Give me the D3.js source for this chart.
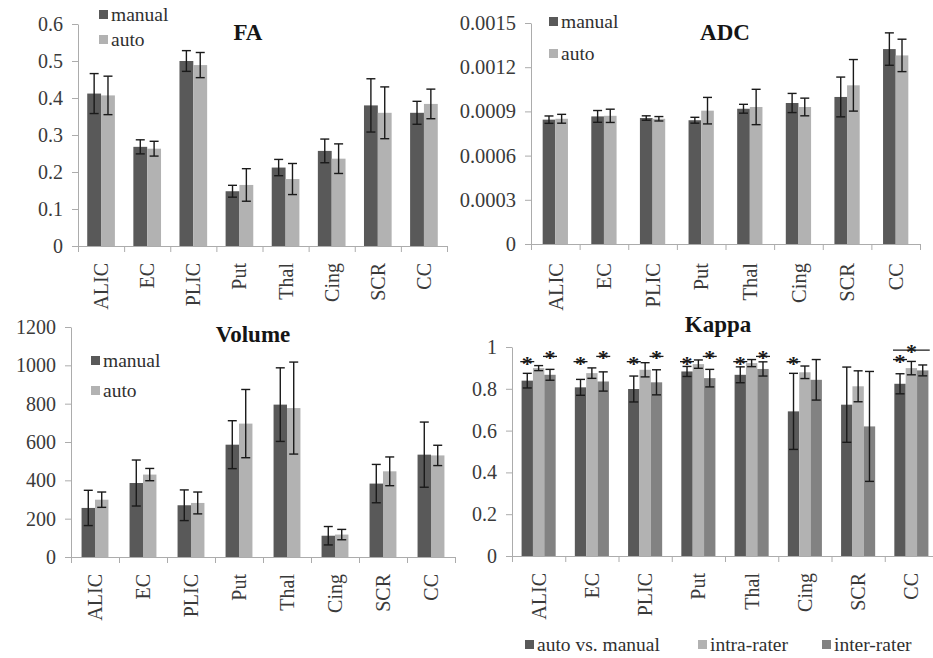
<!DOCTYPE html>
<html>
<head>
<meta charset="utf-8">
<script src="https://cdn.jsdelivr.net/npm/d3@7"></script>
<style>
body { margin: 0; background: #fff; }
</style>
</head>
<body>
<svg></svg>
<script>
const width = 933;
const height = 658;

const regions = ["ALIC", "EC", "PLIC", "Put", "Thal", "Cing", "SCR", "CC"];

// FA
const faManual = [0.412, 0.268, 0.500, 0.148, 0.212, 0.257, 0.380, 0.360];
const faManualErr = [0.054, 0.019, 0.028, 0.016, 0.022, 0.032, 0.072, 0.031];
const faAuto = [0.407, 0.263, 0.489, 0.165, 0.181, 0.236, 0.360, 0.384];
const faAutoErr = [0.052, 0.020, 0.034, 0.044, 0.042, 0.040, 0.070, 0.040];
const faTicks = [0, 0.1, 0.2, 0.3, 0.4, 0.5, 0.6];
const faTickLabels = ["0", "0.1", "0.2", "0.3", "0.4", "0.5", "0.6"];

// ADC
const adcManual = [0.000844, 0.000866, 0.000855, 0.000840, 0.000918, 0.000957, 0.000998, 0.001323];
const adcManualErr = [0.000025, 0.000040, 0.000015, 0.000020, 0.000030, 0.000065, 0.000135, 0.000110];
const adcAuto = [0.000850, 0.000870, 0.000850, 0.000905, 0.000930, 0.000930, 0.001077, 0.001280];
const adcAutoErr = [0.000030, 0.000045, 0.000015, 0.000090, 0.000120, 0.000060, 0.000175, 0.000110];
const adcTicks = [0, 0.0003, 0.0006, 0.0009, 0.0012, 0.0015];
const adcTickLabels = ["0", "0.0003", "0.0006", "0.0009", "0.0012", "0.0015"];

// Volume
const volManual = [256, 386, 270, 586, 795, 111, 383, 534];
const volManualErr = [92, 120, 80, 125, 192, 48, 100, 170];
const volAuto = [299, 430, 282, 696, 777, 117, 447, 530];
const volAutoErr = [40, 32, 57, 178, 240, 27, 75, 53];
const volTicks = [0, 200, 400, 600, 800, 1000, 1200];
const volTickLabels = ["0", "200", "400", "600", "800", "1000", "1200"];

// Kappa
const kAutoManual = [0.839, 0.807, 0.799, 0.883, 0.867, 0.692, 0.724, 0.824];
const kAutoManualErr = [0.035, 0.038, 0.062, 0.024, 0.038, 0.182, 0.180, 0.048];
const kIntra = [0.899, 0.875, 0.891, 0.918, 0.923, 0.879, 0.812, 0.899];
const kIntraErr = [0.012, 0.025, 0.034, 0.020, 0.017, 0.030, 0.074, 0.032];
const kInter = [0.867, 0.835, 0.831, 0.851, 0.895, 0.843, 0.620, 0.888];
const kInterErr = [0.026, 0.046, 0.060, 0.042, 0.034, 0.097, 0.263, 0.026];
const kTicks = [0, 0.2, 0.4, 0.6, 0.8, 1];
const kTickLabels = ["0", "0.2", "0.4", "0.6", "0.8", "1"];
// significance marks: region, first bar, last bar, level of the line
const kStars = [
    ["ALIC", 0, 0, 0.93], ["ALIC", 2, 2, 0.955],
    ["EC", 0, 0, 0.93], ["EC", 2, 2, 0.955],
    ["PLIC", 0, 0, 0.93], ["PLIC", 2, 2, 0.955],
    ["Put", 0, 0, 0.93], ["Put", 2, 2, 0.955],
    ["Thal", 0, 0, 0.93], ["Thal", 2, 2, 0.955],
    ["Cing", 0, 0, 0.93],
    ["CC", 0, 0, 0.94], ["CC", 0, 2, 0.985]
];

const dark = "#595959";
const light = "#b2b2b2";
const mid = "#828282";
const axisColor = "#acacac";
const labelColor = "#3a3a3a";
const serif = "Liberation Serif";

const svg = d3.select("svg")
    .attr("width", width)
    .attr("height", height)
    .attr("font-family", serif);

function drawPanel(cfg) {
    const g = svg.append("g");

    const x = d3.scaleBand()
        .domain(regions)
        .range([cfg.left, cfg.right])
        .paddingInner(cfg.pad)
        .paddingOuter(cfg.pad / 2);
    const xs = d3.scaleBand()
        .domain(d3.range(cfg.series.length))
        .range([0, x.bandwidth()]);
    const y = d3.scaleLinear()
        .domain([0, cfg.max])
        .range([cfg.bottom, cfg.top]);

    cfg.series.forEach((s, k) => {
        g.selectAll(null)
            .data(s.values)
            .join("rect")
            .attr("x", (d, i) => x(regions[i]) + xs(k))
            .attr("y", d => y(d))
            .attr("width", xs.bandwidth())
            .attr("height", d => y(0) - y(d))
            .attr("fill", s.color);
    });

    // error bars
    cfg.series.forEach((s, k) => {
        const eb = g.selectAll(null)
            .data(s.values.map((v, i) => ({ v: v, e: s.err[i], cx: x(regions[i]) + xs(k) + xs.bandwidth() / 2 })))
            .join("g")
            .attr("stroke", "#1a1a1a")
            .attr("stroke-width", 1.4);
        eb.append("line")
            .attr("x1", d => d.cx).attr("x2", d => d.cx)
            .attr("y1", d => y(d.v + d.e)).attr("y2", d => y(d.v - d.e));
        eb.append("line")
            .attr("x1", d => d.cx - cfg.cap).attr("x2", d => d.cx + cfg.cap)
            .attr("y1", d => y(d.v + d.e)).attr("y2", d => y(d.v + d.e));
        eb.append("line")
            .attr("x1", d => d.cx - cfg.cap).attr("x2", d => d.cx + cfg.cap)
            .attr("y1", d => y(d.v - d.e)).attr("y2", d => y(d.v - d.e));
    });

    // y axis
    const yAxis = g.append("g")
        .attr("transform", `translate(${cfg.left},0)`)
        .call(d3.axisLeft(y)
            .tickValues(cfg.ticks)
            .tickFormat((d, i) => cfg.tickLabels[i])
            .tickSize(6)
            .tickSizeOuter(0)
            .tickPadding(9));
    yAxis.attr("font-family", serif);
    yAxis.selectAll("path, line").attr("stroke", axisColor);
    yAxis.selectAll("text")
        .attr("font-size", cfg.fs)
        .attr("fill", labelColor);

    // x axis line with boundary ticks
    const xb = d3.scaleLinear().domain([0, regions.length]).range([cfg.left, cfg.right]);
    const xTicks = g.append("g")
        .attr("transform", `translate(0,${cfg.bottom})`)
        .call(d3.axisBottom(xb)
            .tickValues(d3.range(regions.length + 1))
            .tickFormat("")
            .tickSize(6)
            .tickSizeOuter(0));
    xTicks.selectAll("path, line").attr("stroke", axisColor);

    // category labels
    const xAxis = g.append("g")
        .attr("transform", `translate(0,${cfg.bottom})`)
        .call(d3.axisBottom(x).tickSize(0));
    xAxis.attr("font-family", serif);
    xAxis.select(".domain").remove();
    xAxis.selectAll("text")
        .attr("transform", "rotate(-90)")
        .attr("text-anchor", "end")
        .attr("x", -cfg.labelGap)
        .attr("y", 0)
        .attr("dy", "0.35em")
        .attr("font-size", cfg.fs)
        .attr("fill", labelColor);

    // title
    g.append("text")
        .attr("x", cfg.titleX)
        .attr("y", cfg.titleY)
        .attr("text-anchor", "middle")
        .attr("font-size", 23)
        .attr("font-weight", "bold")
        .attr("fill", "#151515")
        .text(cfg.title);

    // legend
    cfg.legend.forEach((l, k) => {
        g.append("rect")
            .attr("x", l[0]).attr("y", l[1] - 11)
            .attr("width", 9).attr("height", 9)
            .attr("fill", cfg.series[k].color);
        g.append("text")
            .attr("x", l[0] + 12).attr("y", l[1])
            .attr("font-size", 19.5)
            .attr("fill", "#303030")
            .text(cfg.series[k].name);
    });

    return { g: g, x: x, xs: xs, y: y };
}

drawPanel({
    title: "FA", titleX: 248, titleY: 40,
    left: 78, right: 447, bottom: 246, top: 24, max: 0.6, pad: 0.4, cap: 4.5,
    ticks: faTicks, tickLabels: faTickLabels, fs: 20, labelGap: 17,
    series: [
        { name: "manual", values: faManual, err: faManualErr, color: dark },
        { name: "auto", values: faAuto, err: faAutoErr, color: light }
    ],
    legend: [[99, 21], [99, 46]]
});

drawPanel({
    title: "ADC", titleX: 725, titleY: 40,
    left: 531, right: 920, bottom: 244, top: 23, max: 0.0015, pad: 0.48, cap: 4.5,
    ticks: adcTicks, tickLabels: adcTickLabels, fs: 20.5, labelGap: 19,
    series: [
        { name: "manual", values: adcManual, err: adcManualErr, color: dark },
        { name: "auto", values: adcAuto, err: adcAutoErr, color: light }
    ],
    legend: [[549, 28], [549, 60]]
});

drawPanel({
    title: "Volume", titleX: 253, titleY: 342,
    left: 71, right: 455, bottom: 557, top: 327, max: 1200, pad: 0.44, cap: 4.5,
    ticks: volTicks, tickLabels: volTickLabels, fs: 20, labelGap: 17,
    series: [
        { name: "manual", values: volManual, err: volManualErr, color: dark },
        { name: "auto", values: volAuto, err: volAutoErr, color: light }
    ],
    legend: [[91, 367], [91, 397]]
});

const kp = drawPanel({
    title: "Kappa", titleX: 718, titleY: 332,
    left: 512, right: 938, bottom: 556, top: 347, max: 1, pad: 0.36, cap: 4.5,
    ticks: kTicks, tickLabels: kTickLabels, fs: 20, labelGap: 17,
    series: [
        { name: "auto vs. manual", values: kAutoManual, err: kAutoManualErr, color: dark },
        { name: "intra-rater", values: kIntra, err: kIntraErr, color: light },
        { name: "inter-rater", values: kInter, err: kInterErr, color: mid }
    ],
    legend: [[525, 651], [698, 651], [822, 651]]
});

// significance stars on the kappa panel
kStars.forEach(s => {
    const bx = kp.x(s[0]);
    const x1 = bx + kp.xs(s[1]) + kp.xs.bandwidth() / 2 - 7;
    const x2 = bx + kp.xs(s[2]) + kp.xs.bandwidth() / 2 + 7;
    const ly = kp.y(s[3]);
    kp.g.append("line")
        .attr("x1", x1).attr("x2", x2)
        .attr("y1", ly).attr("y2", ly)
        .attr("stroke", "#1a1a1a")
        .attr("stroke-width", 1.3);
    kp.g.append("text")
        .attr("x", (x1 + x2) / 2)
        .attr("y", ly + 9)
        .attr("text-anchor", "middle")
        .attr("font-size", 22)
        .attr("font-weight", "bold")
        .attr("fill", "#1a1a1a")
        .text("*");
});
</script>
</body>
</html>
